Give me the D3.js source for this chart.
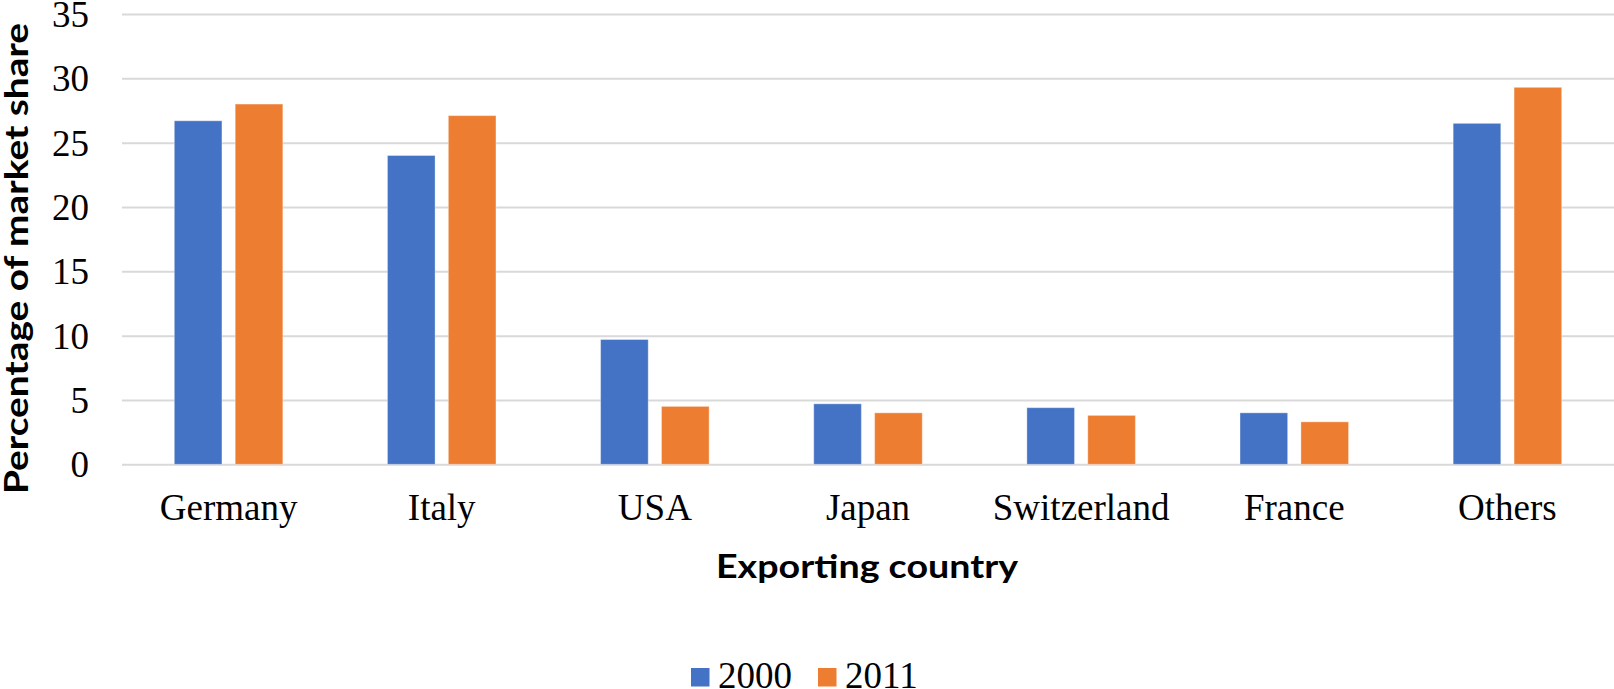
<!DOCTYPE html>
<html>
<head>
<meta charset="utf-8">
<script src="https://cdn.jsdelivr.net/npm/d3@7"></script>
<style>
  html, body { margin: 0; padding: 0; background: #ffffff; }
  svg { display: block; }
</style>
</head>
<body>
<div id="chart"></div>
<script>
// ---- data ----
const categories = ["Germany", "Italy", "USA", "Japan", "Switzerland", "France", "Others"];
const seriesNames = ["2000", "2011"];
const values2000 = [26.7, 24.0, 9.7, 4.7, 4.4, 4.0, 26.5];
const values2011 = [28.0, 27.1, 4.5, 4.0, 3.8, 3.3, 29.3];
const yTicks = [0, 5, 10, 15, 20, 25, 30, 35];
const colors = ["#4472C4", "#ED7D31"];
const xTitle = "Exporting country";
const yTitle = "Percentage of market share";

const W = 1614, H = 689;
const svg = d3.select("#chart").append("svg").attr("width", W).attr("height", H);

const plot = { left: 122, right: 1614, top: 14, bottom: 464.3 };

const x0 = d3.scaleBand().domain(categories).range([plot.left, plot.right]).paddingInner(0).paddingOuter(0);
const x1 = d3.scaleBand().domain(seriesNames).range([0, x0.bandwidth()]).paddingInner(0.218).paddingOuter(0.859);
const y = d3.scaleLinear().domain([0, 35]).range([plot.bottom, plot.top]);

// gridlines
svg.append("g")
  .attr("class", "grid")
  .attr("transform", `translate(${plot.left},0)`)
  .call(d3.axisLeft(y).tickValues(yTicks).tickSize(-(plot.right - plot.left)).tickFormat(""))
  .call(g => g.select(".domain").remove())
  .call(g => g.selectAll("line").attr("stroke", "#D9D9D9").attr("stroke-width", 2));

// y tick labels
svg.append("g")
  .attr("transform", `translate(${plot.left},0)`)
  .call(d3.axisLeft(y).tickValues(yTicks).tickSize(0).tickPadding(33).tickFormat(d3.format("d")))
  .call(g => g.select(".domain").remove())
  .call(g => g.selectAll("text")
      .attr("font-family", "'Liberation Serif', 'Times New Roman', serif")
      .attr("font-size", 37).attr("fill", "#000").attr("dy", "0.34em"));

// bars
const data = categories.map((c, i) => ({ cat: c, vals: [values2000[i], values2011[i]] }));
const groups = svg.append("g").selectAll("g").data(data).join("g")
  .attr("transform", d => `translate(${x0(d.cat)},0)`);
groups.selectAll("rect")
  .data(d => d.vals.map((v, k) => ({ s: seriesNames[k], v, k })))
  .join("rect")
  .attr("x", d => x1(d.s))
  .attr("width", x1.bandwidth())
  .attr("y", d => y(d.v))
  .attr("height", d => y(0) - y(d.v))
  .attr("fill", d => colors[d.k])
  .attr("stroke", "#ffffff").attr("stroke-opacity", 0.35).attr("stroke-width", 1);

// x tick labels
svg.append("g")
  .attr("transform", `translate(0,${plot.bottom})`)
  .call(d3.axisBottom(x0).tickSize(0).tickPadding(0))
  .call(g => g.select(".domain").remove())
  .call(g => g.selectAll("text")
      .attr("font-family", "'Liberation Serif', 'Times New Roman', serif")
      .attr("font-size", 37).attr("fill", "#000").attr("dy", null).attr("y", 56));

// axis titles
svg.append("text")
  .attr("x", (plot.left + plot.right) / 2 - 1).attr("y", 578)
  .attr("text-anchor", "middle")
  .attr("font-family", "Lato, 'Open Sans', sans-serif")
  .attr("font-weight", 700).attr("font-size", 33)
  .attr("textLength", 302).attr("lengthAdjust", "spacingAndGlyphs")
  .text(xTitle);

svg.append("text")
  .attr("transform", `translate(28,258.5) rotate(-90)`)
  .attr("text-anchor", "middle")
  .attr("font-family", "Lato, 'Open Sans', sans-serif")
  .attr("font-weight", 700).attr("font-size", 33)
  .attr("textLength", 471).attr("lengthAdjust", "spacingAndGlyphs")
  .text(yTitle);

// legend
const legendItems = [
  { name: seriesNames[0], color: colors[0], sx: 691, tx: 718 },
  { name: seriesNames[1], color: colors[1], sx: 818, tx: 845 }
];
const lg = svg.append("g");
lg.selectAll("rect").data(legendItems).join("rect")
  .attr("x", d => d.sx).attr("y", 668).attr("width", 18.5).attr("height", 18.5)
  .attr("fill", d => d.color);
lg.selectAll("text").data(legendItems).join("text")
  .attr("x", d => d.tx).attr("y", 688)
  .attr("font-family", "'Liberation Serif', 'Times New Roman', serif")
  .attr("font-size", 37).attr("fill", "#000")
  .text(d => d.name);
</script>
</body>
</html>
